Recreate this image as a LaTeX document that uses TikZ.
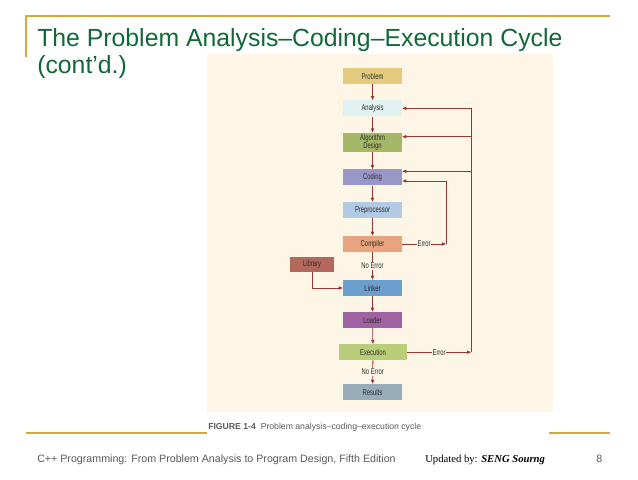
\documentclass[tikz,border=0pt]{standalone}
\usepackage{fontspec}
\setmainfont{Liberation Sans}
\newfontfamily\boxfont[FakeStretch=0.7]{Liberation Sans}
\newfontfamily\footserif{Liberation Serif}
\usetikzlibrary{arrows.meta,calc}
\definecolor{beige}{RGB}{253,246,230}
\definecolor{arrowred}{RGB}{150,55,50}
\definecolor{gold}{RGB}{214,168,60}
\definecolor{titlegreen}{RGB}{18,104,58}
\definecolor{footgrey}{RGB}{90,90,90}
\definecolor{boxtext}{RGB}{45,45,45}
\definecolor{cprob}{RGB}{228,203,125}
\definecolor{canal}{RGB}{226,242,242}
\definecolor{calgo}{RGB}{165,184,104}
\definecolor{ccode}{RGB}{152,152,200}
\definecolor{cprep}{RGB}{178,203,228}
\definecolor{ccomp}{RGB}{232,164,126}
\definecolor{clib}{RGB}{178,104,90}
\definecolor{clink}{RGB}{108,158,206}
\definecolor{cload}{RGB}{160,98,160}
\definecolor{cexec}{RGB}{186,206,122}
\definecolor{cres}{RGB}{152,172,186}
\begin{document}
\begin{tikzpicture}[x=0.75pt,y=0.75pt,yscale=-1,xscale=1,
  stage/.style={minimum width=44.25pt,minimum height=12pt,inner sep=0pt,font=\boxfont\fontsize{6.3}{6.5}\selectfont,text=boxtext},
  lbl/.style={fill=beige,inner sep=0.6pt,font=\boxfont\fontsize{6.3}{6.5}\selectfont,text=boxtext},
  wire/.style={draw=arrowred,line width=0.6pt},
  flow/.style={wire,-{Triangle[length=3pt,width=2.4pt]}},
  rule/.style={draw=gold,line width=0.8pt}]
\useasboundingbox (0,0) rectangle (638,479);
\fill[white] (0,0) rectangle (638,479);
% slide frame
\draw[rule] (26,57) -- (26,16) -- (610,16);
\draw[rule] (26,433) -- (207,433);
\draw[rule] (549,433) -- (610,433);
\node[anchor=base west,inner sep=0pt,text=titlegreen,font=\fontsize{18.6}{22}\selectfont] (title) at (37,46) {The Problem Analysis–Coding–Execution Cycle};
\node[anchor=base west,inner sep=0pt,text=titlegreen,font=\fontsize{18.6}{22}\selectfont] (cont) at (37,73) {(cont’d.)};
% figure
\fill[beige] (207,54) rectangle (553,412);
\node[stage,fill=cprob] (prob) at (372.5,76) {Problem};
\node[stage,fill=canal] (anal) at (372.5,108.3) {Analysis};
\node[stage,fill=calgo,minimum height=14.25pt,align=center,font=\boxfont\fontsize{6.3}{6.3}\selectfont] (algo) at (372.5,142.2) {Algorithm\\Design};
\node[stage,fill=ccode] (coding) at (372.5,177.3) {Coding};
\node[stage,fill=cprep] (prep) at (372.5,210) {Preprocessor};
\node[stage,fill=ccomp] (comp) at (372.5,244) {Compiler};
\node[stage,fill=clib,minimum width=33pt,minimum height=11.25pt] (lib) at (312,264.2) {Library};
\node[stage,fill=clink] (linker) at (372.5,288) {Linker};
\node[stage,fill=cload] (loader) at (372.5,320) {Loader};
\node[stage,fill=cexec,minimum width=51pt] (exec) at (373,352.2) {Execution};
\node[stage,fill=cres] (res) at (372.5,392) {Results};
\coordinate (errc) at (446,244);
\coordinate (erre) at (471,352.2);
\coordinate (algoin) at ($(algo.east)+(0,-5.5)$);
\coordinate (codeout) at ($(coding.east)+(0,-6)$);
\coordinate (codein) at ($(coding.east)+(0,3.7)$);
% main chain
\draw[flow] (prob) -- (anal);
\draw[flow] (anal) -- (algo);
\draw[flow] (algo) -- (coding);
\draw[flow] (coding) -- (prep);
\draw[flow] (prep) -- (comp);
\draw[flow] (comp) -- node[lbl]{No Error} (linker);
\draw[flow] (linker) -- (loader);
\draw[flow] (loader) -- (exec);
\draw[flow] (exec) -- node[lbl]{No Error} (res);
\draw[flow] (lib) |- (linker);
% error loops
\draw[flow] (comp) -- node[lbl]{Error} (errc);
\draw[flow] (errc) |- (codein);
\draw[flow] (exec) -- node[lbl]{Error} (erre);
\draw[flow] (erre) |- (anal);
\draw[flow] (erre |- algoin) -- (algoin);
\draw[flow] (erre |- codeout) -- (codeout);
\node[anchor=base west,inner sep=0pt,text=footgrey,font=\fontsize{6.5}{7}\selectfont] (cap) at (208,429) {\textbf{FIGURE 1-4}\ \ Problem analysis–coding–execution cycle};
% footer
\node[anchor=base west,inner sep=0pt,text=footgrey,font=\fontsize{8}{9}\selectfont] (foot) at (37,462) {C++ Programming: From Problem Analysis to Program Design, Fifth Edition};
\node[anchor=base west,inner sep=0pt,font=\footserif\fontsize{8}{9}\selectfont] (upd) at (425,462) {Updated by: \textbf{\textit{SENG Sourng}}};
\node[anchor=base west,inner sep=0pt,text=footgrey,font=\fontsize{8}{9}\selectfont] (page) at (596,462) {8};
\end{tikzpicture}
\end{document}
